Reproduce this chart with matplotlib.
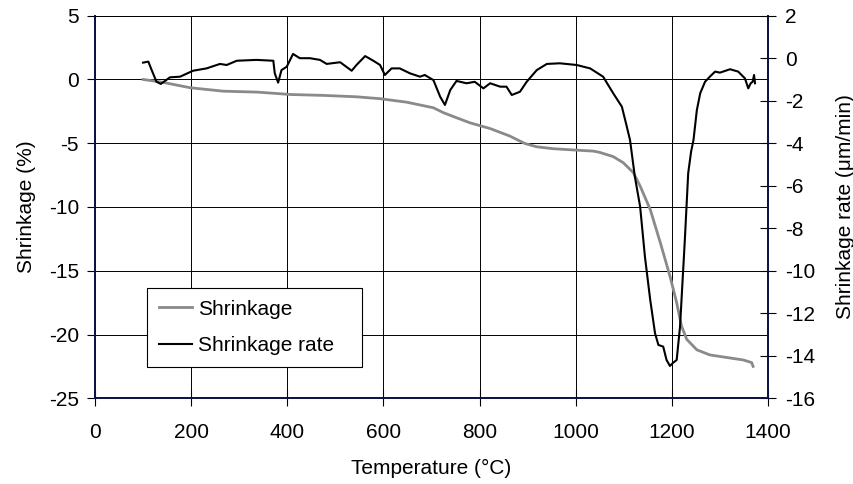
import matplotlib
matplotlib.use("Agg")
import matplotlib.pyplot as plt

# Shrinkage (%) vs temperature (°C)
shrink_T = [100, 139, 198, 267, 336, 385, 406, 475, 544, 593, 648, 704, 725, 752,
            780, 822, 863, 894, 919, 953, 1000, 1037, 1050, 1078, 1099, 1120, 1134,
            1155, 1176, 1196, 1210, 1220, 1231, 1252, 1279, 1314, 1349, 1366, 1369]
shrink_val = [0.0, -0.21, -0.65, -0.92, -0.99, -1.12, -1.18, -1.25, -1.36, -1.51, -1.78,
              -2.22, -2.61, -3.00, -3.40, -3.85, -4.44, -5.02, -5.28, -5.43, -5.54, -5.62,
              -5.72, -6.05, -6.53, -7.31, -8.36, -10.19, -12.80, -15.41, -17.50, -19.33,
              -20.38, -21.20, -21.60, -21.80, -22.00, -22.20, -22.50]

# Shrinkage rate (µm/min) vs temperature (°C)
rate_T = [100, 111, 118, 128, 137, 156, 177, 204, 232, 260, 274, 295, 336, 371, 374,
          381, 388, 399, 412, 426, 447, 468, 482, 510, 534, 544, 562, 579, 593, 603,
          617, 634, 655, 676, 686, 704, 718, 728, 739, 752, 773, 790, 808, 822, 843,
          856, 867, 884, 898, 919, 940, 967, 1002, 1030, 1057, 1078, 1096, 1105, 1113,
          1123, 1134, 1144, 1155, 1165, 1172, 1182, 1189, 1196, 1203, 1210, 1217, 1227,
          1234, 1240, 1245, 1252, 1259, 1269, 1279, 1290, 1300, 1321, 1338, 1352, 1359,
          1364, 1368, 1371, 1373]
rate_val = [-0.21, -0.16, -0.56, -1.11, -1.21, -0.90, -0.87, -0.59, -0.48, -0.27, -0.32,
            -0.12, -0.08, -0.12, -0.71, -1.15, -0.56, -0.40, 0.20, 0.00, 0.00, -0.08,
            -0.27, -0.19, -0.59, -0.32, 0.10, -0.12, -0.32, -0.79, -0.48, -0.48, -0.71,
            -0.87, -0.79, -1.03, -1.81, -2.20, -1.50, -1.07, -1.18, -1.11, -1.42, -1.18,
            -1.34, -1.34, -1.73, -1.58, -1.11, -0.56, -0.27, -0.24, -0.32, -0.48, -0.87,
            -1.65, -2.28, -3.10, -3.85, -5.57, -6.98, -9.34, -11.37, -12.94, -13.49,
            -13.57, -14.20, -14.48, -14.32, -14.20, -12.63, -8.55, -5.41, -4.40, -3.85,
            -2.44, -1.65, -1.11, -0.87, -0.63, -0.68, -0.52, -0.63, -0.95, -1.42, -1.18,
            -1.11, -0.79, -1.18]

x_ticks = [0, 200, 400, 600, 800, 1000, 1200, 1400]
left_ticks = [5, 0, -5, -10, -15, -20, -25]
right_ticks = [2, 0, -2, -4, -6, -8, -10, -12, -14, -16]

FONT = "Liberation Sans"
FS = 15
navy = "#10104a"

plt.rcParams['font.family'] = [FONT, 'DejaVu Sans']

fig = plt.figure(figsize=(8.54, 4.84), dpi=100)
ax = fig.add_axes([0.1112, 0.1771, 0.7881, 0.7905])
ax2 = ax.twinx()

ax.set_xlim(0, 1400)
ax.set_ylim(-25, 5)
ax2.set_ylim(-16, 2)
ax.set_xticks(x_ticks)
ax.set_yticks(left_ticks)
ax2.set_yticks(right_ticks)
ax.set_xticklabels([str(v) for v in x_ticks])
ax.set_yticklabels([str(v) for v in left_ticks])
ax2.set_yticklabels([str(v) for v in right_ticks])

ax.grid(True, color="black", linewidth=0.7)
ax.set_axisbelow(True)

l1, = ax.plot(shrink_T, shrink_val, color="#8a8a8a", linewidth=2.0, label="Shrinkage")
l2, = ax2.plot(rate_T, rate_val, color="black", linewidth=1.5, label="Shrinkage rate")

for a in (ax, ax2):
    for s in ("left", "right", "bottom"):
        a.spines[s].set_color(navy)
        a.spines[s].set_linewidth(1.3)
    a.spines["top"].set_color("black")
    a.spines["top"].set_linewidth(0.7)

ax.tick_params(axis="x", direction="inout", length=11, width=0.8, colors="black",
               labelsize=FS, pad=12.5)
ax.tick_params(axis="y", direction="out", length=5.5, width=0.8, colors="black",
               labelsize=FS, pad=6)
ax2.tick_params(axis="y", direction="inout", length=11, width=0.8, colors="black",
                labelsize=FS, pad=6.5)

ax.set_xlabel("Temperature (°C)", fontsize=FS, labelpad=12)
ax.set_ylabel("Shrinkage (%)", fontsize=FS, labelpad=9)
ax2.set_ylabel("Shrinkage rate (\u03bcm/min)", fontsize=FS, labelpad=15)

leg = ax2.legend(handles=[l1, l2], loc="upper left",
                 bbox_to_anchor=(0.0777, 0.087, 0.3186, 0.2005),
                 mode="expand", fontsize=FS, frameon=True, fancybox=False,
                 edgecolor="black", framealpha=1.0, handlelength=1.6,
                 handletextpad=0.3, labelspacing=0.85, borderpad=0.55,
                 borderaxespad=0.0)
leg.get_frame().set_linewidth(0.8)
leg.set_zorder(10)

fig.savefig("out.png", dpi=100)
